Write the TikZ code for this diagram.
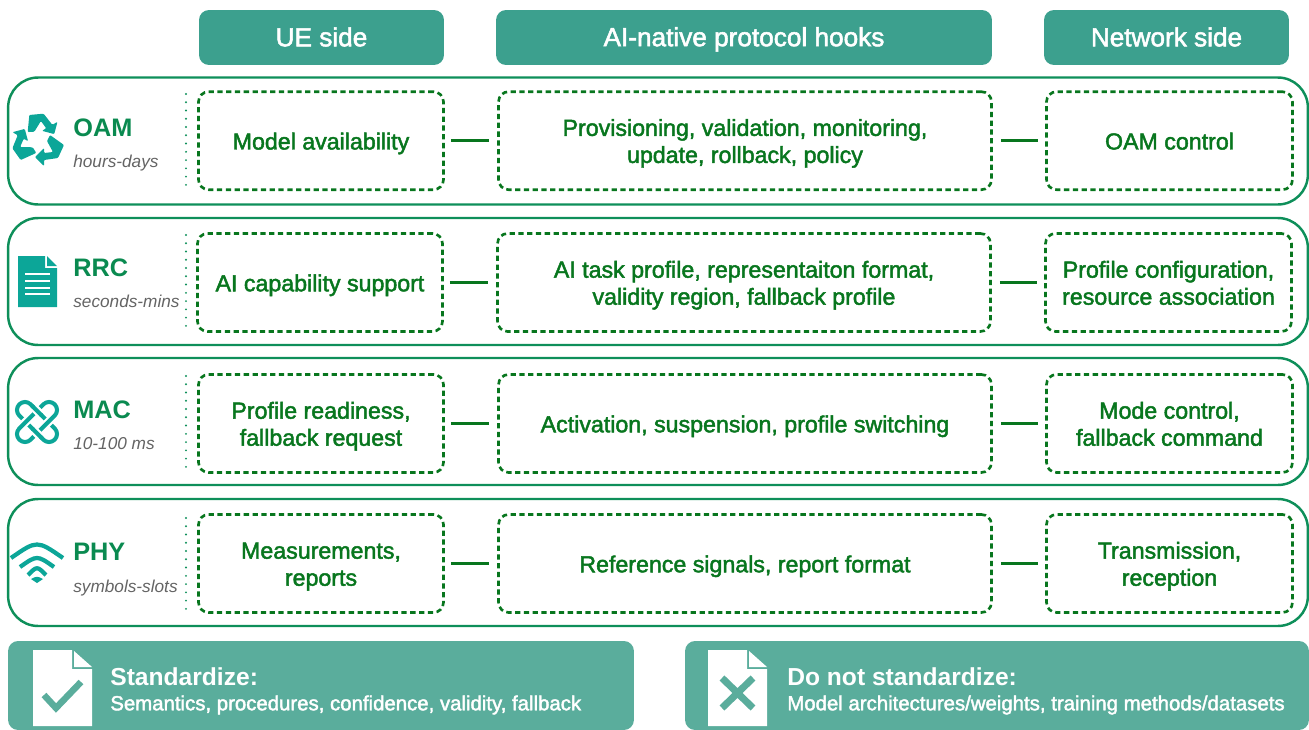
\documentclass[tikz,border=0pt]{standalone}
\usepackage{fontspec}
\setmainfont{Liberation Sans}
\newfontfamily\medfont[FakeBold=2]{Liberation Sans}
\newcommand\hookstrut{\rule[-3pt]{0pt}{16pt}}
\newcommand\hookfoot{\rule[-3pt]{0pt}{3pt}}
\newcommand\headstrut{\rule[-3pt]{0pt}{16pt}}
\newcommand\linetop{\rule{0pt}{12.9pt}}
\newcommand\linefoot{\rule[-3pt]{0pt}{3pt}}
\definecolor{headteal}{RGB}{60,160,142}
\definecolor{footteal}{RGB}{90,173,156}
\definecolor{iconteal}{RGB}{12,166,152}
\definecolor{rowgreen}{RGB}{14,143,90}
\definecolor{laygreen}{RGB}{10,138,80}
\definecolor{boxgreen}{RGB}{8,118,30}
\definecolor{subgrey}{RGB}{100,100,100}
\tikzset{
	headbox/.style={fill=headteal, rounded corners=0.2cm, text=white, font=\medfont\fontsize{14.9}{17}\selectfont, minimum height=1.1cm, execute at begin node=\headstrut},
	rowbox/.style={draw=rowgreen, line width=1.4pt, rounded corners=0.6cm, minimum width=26cm, minimum height=2.54cm},
	hookbox/.style={draw=boxgreen, line width=1.5pt, dash pattern=on 3pt off 2pt, rounded corners=0.2cm, text=boxgreen, align=center, font=\medfont\fontsize{13.2}{15.4}\selectfont, minimum height=1.96cm, inner sep=0pt, execute at begin node=\hookstrut, execute at end node=\hookfoot},
	laybl/.style={anchor=west, inner sep=0pt, text=laygreen, font=\bfseries\fontsize{14.4}{16}\selectfont},
	timelbl/.style={anchor=west, inner sep=0pt, text=subgrey, font=\itshape\fontsize{9.8}{12}\selectfont},
	footbox/.style={fill=footteal, rounded corners=0.2cm, minimum height=1.78cm},
	foothead/.style={anchor=west, inner sep=0pt, text=white, font=\bfseries\fontsize{14}{16}\selectfont},
	foottext/.style={anchor=west, inner sep=0pt, text=white, font=\medfont\fontsize{11.6}{13}\selectfont},
	link/.style={draw=boxgreen, line width=1.6pt},
	dotline/.style={draw=rowgreen, line width=1.2pt, line cap=round, dash pattern=on 0pt off 4.7pt}
}
\begin{document}
\begin{tikzpicture}[x=0.02cm,y=-0.02cm]
	\useasboundingbox (0,0) rectangle (1309,730);
	
	\node (ue) at (321.5,37.5) [headbox, minimum width=4.9cm] {UE side};
	\node (hooks) at (744,37.5) [headbox, minimum width=9.92cm] {AI-native protocol hooks};
	\node (net) at (1166.5,37.5) [headbox, minimum width=4.9cm] {Network side};
	
	\node (oamrow) at (658,141) [rowbox] {};
	\node (rrcrow) at (658,281.5) [rowbox] {};
	\node (macrow) at (658,421.5) [rowbox] {};
	\node (phyrow) at (658,562.5) [rowbox] {};
	
	\node (oamname) at (73,128) [laybl] {OAM};
	\node (oamtime) at (73,163) [timelbl] {hours-days};
	\node (rrcname) at (73,268) [laybl] {RRC};
	\node (rrctime) at (73,301) [timelbl] {seconds-mins};
	\node (macname) at (73,410) [laybl] {MAC};
	\node (mactime) at (73,444) [timelbl] {10-100 ms};
	\node (phyname) at (73,552) [laybl] {PHY};
	\node (phytime) at (73,588) [timelbl] {symbols-slots};
	
	\coordinate (oamdota) at (186,94);
	\coordinate (oamdotb) at (186,188);
	\coordinate (rrcdota) at (186,235);
	\coordinate (rrcdotb) at (186,329);
	\coordinate (macdota) at (186,376);
	\coordinate (macdotb) at (186,470);
	\coordinate (phydota) at (186,518);
	\coordinate (phydotb) at (186,611);
	\draw[dotline] (oamdota) -- (oamdotb);
	\draw[dotline] (rrcdota) -- (rrcdotb);
	\draw[dotline] (macdota) -- (macdotb);
	\draw[dotline] (phydota) -- (phydotb);
	
	\node (oamue) at (321,140.7) [hookbox, minimum width=4.9cm] {Model availability};
	\node (oamhook) at (745,140.7) [hookbox, minimum width=9.86cm] {\linetop Provisioning, validation, monitoring,\\update, rollback, policy\linefoot};
	\node (oamnet) at (1169.5,140.7) [hookbox, minimum width=4.92cm] {OAM control};
	
	\node (rrcue) at (320,282.5) [hookbox, minimum width=4.9cm] {AI capability support};
	\node (rrchook) at (744,282.5) [hookbox, minimum width=9.86cm] {\linetop AI task profile, representaiton format,\\validity region, fallback profile\linefoot};
	\node (rrcnet) at (1168.5,282.5) [hookbox, minimum width=4.92cm] {\linetop Profile configuration,\\resource association\linefoot};
	
	\node (macue) at (321,423.5) [hookbox, minimum width=4.9cm] {\linetop Profile readiness,\\fallback request\linefoot};
	\node (machook) at (745,423.5) [hookbox, minimum width=9.86cm] {Activation, suspension, profile switching};
	\node (macnet) at (1169.5,423.5) [hookbox, minimum width=4.92cm] {\linetop Mode control,\\fallback command\linefoot};
	
	\node (phyue) at (321,563.5) [hookbox, minimum width=4.9cm] {\linetop Measurements,\\reports\linefoot};
	\node (phyhook) at (745,563.5) [hookbox, minimum width=9.86cm] {Reference signals, report format};
	\node (phynet) at (1169.5,563.5) [hookbox, minimum width=4.92cm] {\linetop Transmission,\\reception\linefoot};
	
	\draw[link, shorten <=0.12cm, shorten >=0.16cm]
	(oamue) edge (oamhook)
	(rrcue) edge (rrchook)
	(macue) edge (machook)
	(phyue) edge (phyhook)
	;
	\draw[link, shorten <=0.16cm, shorten >=0.14cm]
	(oamhook) edge (oamnet)
	(rrchook) edge (rrcnet)
	(machook) edge (macnet)
	(phyhook) edge (phynet)
	;
	
	\foreach \turn in {0,120,240}
	\fill[iconteal, rounded corners=0.02cm, rotate around={\turn:(38,140)}]
	(50,135) -- (64,145) -- (58,158) -- (44,160) -- (44,166) -- (35,157) -- (44,148) -- (44,153) -- (53,152) -- (47,141) -- cycle;
	
	\fill[iconteal] (18,256) -- (45,256) -- (45,268) -- (57,268) -- (57,307) -- (18,307) -- cycle;
	\fill[iconteal] (47,256) -- (57,266) -- (47,266) -- cycle;
	\foreach \liney in {274,281,288,294}
	\draw[white, line width=0.045cm] (25,\liney) -- (50,\liney);
	
	\begin{scope}[shift={(37,422)}, rotate=-45, line width=0.08cm]
		\draw[iconteal, rounded corners=0.16cm] (-25,-8) rectangle (25,8);
		\draw[white, line width=0.17cm] (-8,-25) -- (-8,25) (8,-25) -- (8,25);
		\draw[iconteal, rounded corners=0.16cm] (-8,-25) rectangle (8,25);
		\draw[white, line width=0.17cm] (3,8) -- (13,8) (-13,-8) -- (-3,-8);
		\draw[iconteal] (1,8) -- (15,8) (-15,-8) -- (-1,-8);
	\end{scope}
	
	\draw[iconteal, line width=0.085cm] (11,558) .. controls (37,540) .. (63,558);
	\draw[iconteal, line width=0.085cm] (20,567) .. controls (37,555) .. (54,567);
	\draw[iconteal, line width=0.085cm] (28,575) .. controls (37,566) .. (46,575);
	\fill[iconteal] (37,583) -- (31,579) .. controls (37,576) .. (43,579) -- cycle;
	
	\node (stdbox) at (321,685.5) [footbox, minimum width=12.52cm] {};
	\node (nostdbox) at (997,685.5) [footbox, minimum width=12.48cm] {};
	
	\fill[white] (33,650) -- (72,650) -- (72,669) -- (92,669) -- (92,726) -- (33,726) -- cycle;
	\fill[white] (74,651) -- (92,667) -- (74,667) -- cycle;
	\draw[footteal, line width=0.13cm] (44,695) -- (56,708) -- (81,682);
	
	\fill[white] (708,650) -- (747,650) -- (747,669) -- (767,669) -- (767,726) -- (708,726) -- cycle;
	\fill[white] (749,651) -- (767,667) -- (749,667) -- cycle;
	\draw[footteal, line width=0.14cm] (722,678) -- (753,708) (753,678) -- (722,708);
	
	\node (stdhead) at (110,677) [foothead] {Standardize:};
	\node (stdtext) at (110,705) [foottext] {Semantics, procedures, confidence, validity, fallback};
	\node (nostdhead) at (787,677) [foothead] {Do not standardize:};
	\node (nostdtext) at (787,705) [foottext] {Model architectures/weights, training methods/datasets};
\end{tikzpicture}
\end{document}
